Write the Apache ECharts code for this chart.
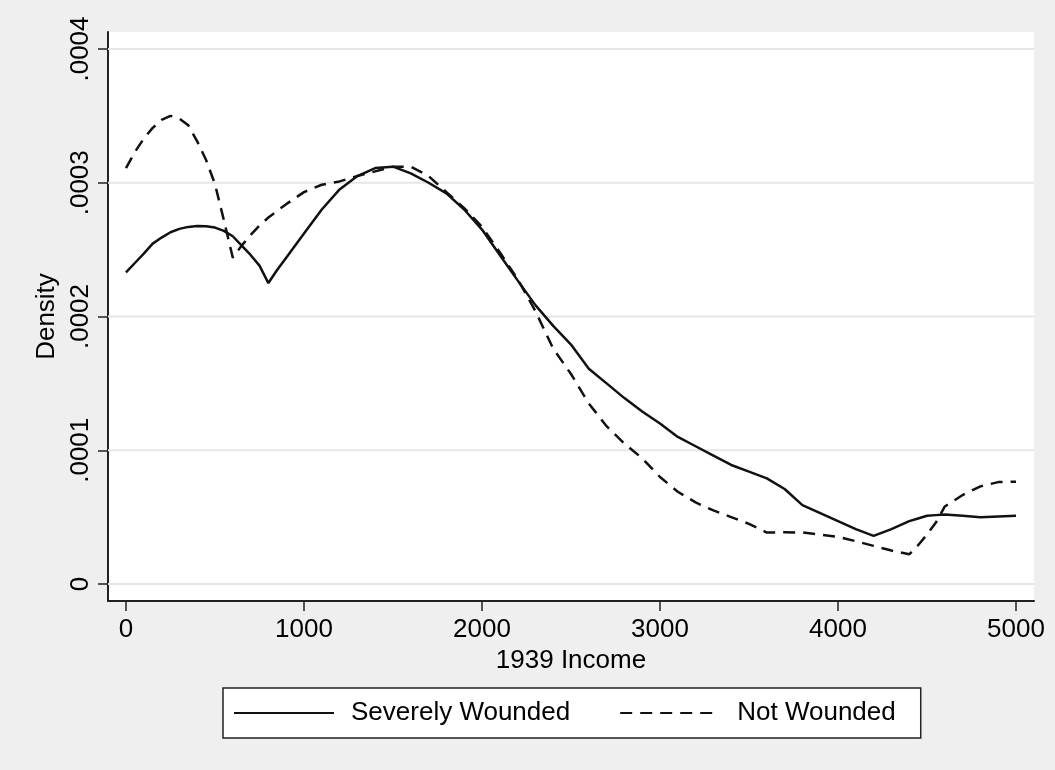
<!DOCTYPE html>
<html>
<head>
<meta charset="utf-8">
<title>Density of 1939 income</title>
<script src="https://cdn.jsdelivr.net/npm/echarts@6/dist/echarts.min.js"></script>
<style>
  html, body { margin: 0; padding: 0; background: #efefef; }
  #chart { width: 1055px; height: 770px; }
</style>
</head>
<body>
<div id="chart"></div>
<script>
// 1939 income (x), evaluation points of the kernel densities
const income = [
  0, 50, 100, 150, 200, 250, 300, 350, 400, 450,
  500, 550, 600, 650, 700, 750, 800, 850, 900,
  1000, 1100, 1200, 1300, 1400, 1500, 1600, 1700, 1800, 1900,
  2000, 2100, 2200, 2300, 2400, 2500, 2600, 2700, 2800, 2900,
  3000, 3100, 3200, 3300, 3400, 3500, 3600, 3700, 3800, 3900,
  4000, 4100, 4200, 4300, 4400, 4450, 4500, 4550, 4600, 4700, 4800, 4900, 5000
]

const severelyWounded = [
  0.000233, 0.00024, 0.000247, 0.0002545, 0.000259, 0.000263, 0.0002655, 0.000267, 0.0002677, 0.0002675,
  0.0002665, 0.000264, 0.00026, 0.000253, 0.000246, 0.000238, 0.000225, 0.000235, 0.000244,
  0.000262, 0.00028, 0.000295, 0.000305, 0.000311, 0.000312, 0.000307, 0.0003, 0.000292, 0.00028,
  0.000265, 0.000246, 0.000227, 0.0002085, 0.000193, 0.000179, 0.000161, 0.00015, 0.000139, 0.000129,
  0.00012, 0.00011, 0.000103, 0.000096, 0.000089, 0.000084, 0.000079, 0.000071, 0.000059, 0.000053,
  0.000047, 0.000041, 0.000036, 0.000041, 0.000047, 0.000049, 0.000051, 0.0000515, 0.000052, 0.000051, 0.00005, 0.0000505, 0.000051
]

const notWounded = [
  0.000311, 0.000323, 0.000333, 0.000341, 0.000347, 0.00035, 0.000348, 0.000343, 0.000331, 0.000317,
  0.000299, 0.000272, 0.000244, 0.000253, 0.000261, 0.000268, 0.000274, 0.000279, 0.000284,
  0.000293, 0.0002985, 0.000301, 0.000305, 0.0003085, 0.000312, 0.000312, 0.000305, 0.000293, 0.000281,
  0.000267, 0.000248, 0.000228, 0.000204, 0.000176, 0.000157, 0.000135, 0.000118, 0.000105, 0.000094,
  0.00008, 0.000069, 0.000061, 0.000055, 0.00005, 0.000045, 0.0000385, 0.0000387, 0.0000385, 0.000037,
  0.0000352, 0.000032, 0.0000285, 0.000025, 0.0000222, 0.000029, 0.000037, 0.000046, 0.000058, 0.0000665, 0.000073, 0.0000762, 0.0000765
]

const xTicks = [0, 1000, 2000, 3000, 4000, 5000]
const yTicks = [0, 0.0001, 0.0002, 0.0003, 0.0004]

const xMin = -101
const xMax = 5101
const font = 'Liberation Sans, Arial, Helvetica, sans-serif'
const axisColor = '#222'

function pairs(xs, ys) {
  return xs.map((x, i) => [x, ys[i]])
}

// horizontal grid lines at the y ticks, drawn under the curves
const gridSeries = yTicks.map(v => ({
  type: 'line',
  z: 1,
  silent: true,
  symbol: 'none',
  data: [[xMin, v], [xMax, v]],
  lineStyle: { color: '#e6e6e6', width: 2 }
}))

const chart = echarts.init(document.getElementById('chart'))
chart.setOption({
  animation: false,
  backgroundColor: '#efefef',
  textStyle: { fontFamily: font, color: '#000' },
  grid: {
    left: 108, right: 21, top: 32, bottom: 169,
    show: true, backgroundColor: '#fff', borderWidth: 0
  },
  xAxis: {
    type: 'value',
    min: xMin, max: xMax,
    name: '1939 Income',
    nameLocation: 'middle',
    nameGap: 45,
    nameTextStyle: { fontSize: 26, color: '#000', fontFamily: font },
    axisLine: { onZero: false, lineStyle: { color: axisColor, width: 2 } },
    axisTick: { show: true, customValues: xTicks, length: 10, lineStyle: { color: axisColor, width: 1.5 } },
    axisLabel: {
      customValues: xTicks, margin: 16, fontSize: 26, color: '#000', fontFamily: font,
      formatter: v => String(v)
    },
    splitLine: { show: false }
  },
  yAxis: {
    type: 'value',
    min: -0.0000127, max: 0.0004127,
    name: 'Density',
    nameLocation: 'middle',
    nameRotate: 90,
    nameGap: 40,
    nameTextStyle: { fontSize: 26, color: '#000', fontFamily: font },
    axisLine: { onZero: false, lineStyle: { color: axisColor, width: 2 } },
    axisTick: { show: true, customValues: yTicks, length: 10, lineStyle: { color: axisColor, width: 1.5 } },
    axisLabel: {
      customValues: yTicks,
      rotate: 90,
      margin: 14,
      fontSize: 26,
      color: '#000',
      fontFamily: font,
      formatter: v => v === 0 ? '0' : v.toFixed(4).replace(/^0/, '')
    },
    splitLine: { show: false }
  },
  legend: {
    left: 223,
    top: 688,
    orient: 'horizontal',
    backgroundColor: '#fff',
    borderColor: '#222',
    borderWidth: 1.5,
    borderRadius: 0,
    padding: [12, 25, 12, 10],
    itemWidth: 100,
    itemHeight: 25,
    itemGap: 49,
    itemStyle: { opacity: 0 },
    textStyle: { fontSize: 26, color: '#000', fontFamily: font, padding: [0, 0, 0, 12] },
    data: ['Severely Wounded', 'Not Wounded']
  },
  series: gridSeries.concat([
    {
      name: 'Severely Wounded',
      type: 'line',
      z: 3,
      symbol: 'none',
      showSymbol: false,
      data: pairs(income, severelyWounded),
      lineStyle: { color: '#111', width: 2.5, type: 'solid' },
      itemStyle: { color: '#111' }
    },
    {
      name: 'Not Wounded',
      type: 'line',
      z: 3,
      symbol: 'none',
      showSymbol: false,
      data: pairs(income, notWounded),
      lineStyle: { color: '#111', width: 2.5, type: [12, 8] },
      itemStyle: { color: '#111' }
    }
  ])
})
</script>
</body>
</html>
